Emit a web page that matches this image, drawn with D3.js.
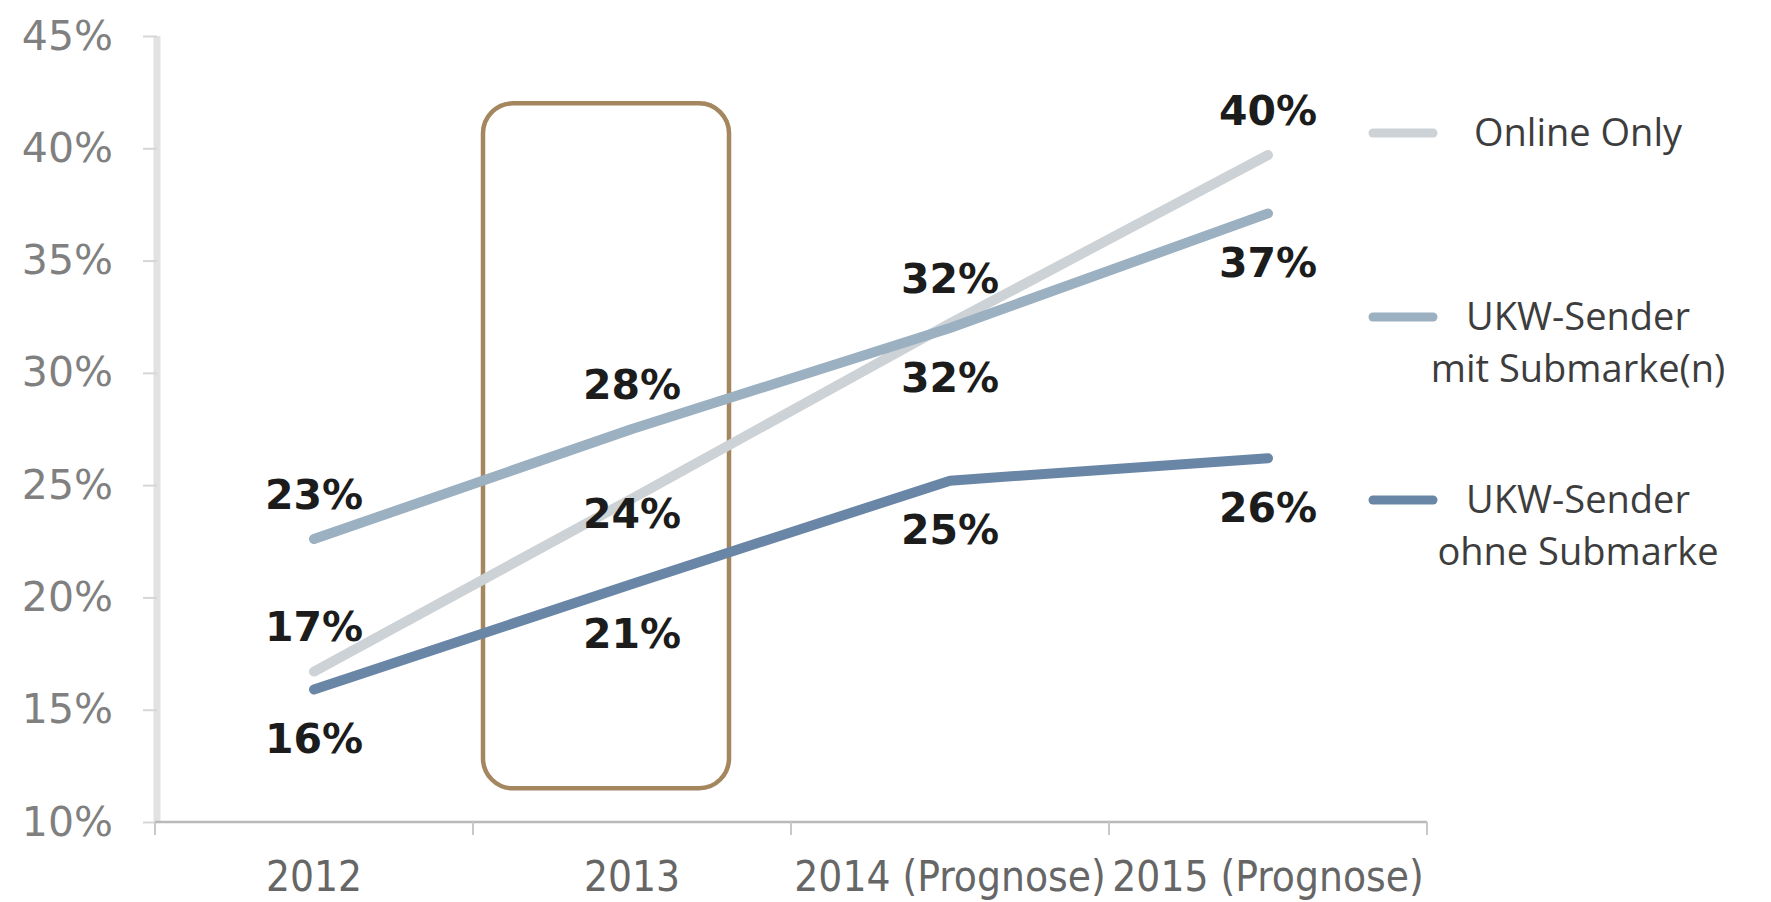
<!DOCTYPE html>
<html>
<head>
<meta charset="utf-8">
<script src="https://cdn.jsdelivr.net/npm/d3@7"></script>
<style>
  html, body { margin: 0; padding: 0; background: #ffffff; }
  svg { display: block; }
</style>
</head>
<body>
<svg id="chart" width="1771" height="902"></svg>
<script>
// ---------- data ----------
const categories = ["2012", "2013", "2014 (Prognose)", "2015 (Prognose)"];
const seriesNames = ["Online Only", "UKW-Sender mit Submarke(n)", "UKW-Sender ohne Submarke"];
const legendLines = [["Online Only"], ["UKW-Sender", "mit Submarke(n)"], ["UKW-Sender", "ohne Submarke"]];
const onlineOnly = [16.7, 24.4, 32.2, 39.7];
const ukwMit     = [22.6, 27.5, 32.0, 37.1];
const ukwOhne    = [15.9, 20.6, 25.2, 26.2];
const yTicks = [10, 15, 20, 25, 30, 35, 40, 45];
// label placement relative to the point
const onlinePlace = ["above", "center", "above", "above"];
const mitPlace    = ["above", "above", "below", "below"];
const ohnePlace   = ["below", "below", "below", "below"];
// highlighted category (annotation box)
const highlightCat = "2013";
const highlightRange = [11.5, 42];

const seriesColors = ["#cdd2d6", "#9bb0c0", "#6a86a6"];

// ---------- scales ----------
const svg = d3.select("#chart");
const x = d3.scaleBand().domain(categories).range([155, 1427]).padding(0);
const y = d3.scaleLinear().domain([10, 45]).range([822, 36]);
const cx = c => x(c) + x.bandwidth() / 2;

// ---------- y axis ----------
const yAxis = svg.append("g").attr("transform", "translate(157,0)")
  .call(d3.axisLeft(y).tickValues(yTicks).tickFormat(d => d + "%").tickSize(14).tickPadding(30));
yAxis.select(".domain").attr("stroke", "#e2e2e2").attr("stroke-width", 7)
  .attr("d", `M0,${y(45)}V${y(10)}`);
yAxis.selectAll(".tick line").attr("stroke", "#d6d6d6").attr("stroke-width", 2);
yAxis.selectAll(".tick text")
  .attr("fill", "#808080")
  .style("font-family", "'DejaVu Sans', sans-serif")
  .style("font-size", "41px");

// ---------- x axis ----------
const xAxis = svg.append("g").attr("transform", `translate(0,${y(10)})`)
  .call(d3.axisBottom(x).tickSize(0).tickPadding(0));
xAxis.select(".domain").attr("stroke", "#b9b9b9").attr("stroke-width", 2.5)
  .attr("d", `M${x.range()[0]},0H${x.range()[1]}`);
xAxis.selectAll(".tick text")
  .attr("y", 54).attr("dy", "0.35em")
  .attr("fill", "#666")
  .style("font-family", "'DejaVu Sans Condensed', 'DejaVu Sans', sans-serif")
  .style("font-stretch", "condensed")
  .style("font-size", "42px");
// category boundary ticks
const bounds = categories.map(c => x(c)).concat([x.range()[1]]);
xAxis.selectAll("line.bound").data(bounds).enter().append("line")
  .attr("class", "bound")
  .attr("x1", d => d).attr("x2", d => d)
  .attr("y1", 0).attr("y2", 13)
  .attr("stroke", "#c8c8c8").attr("stroke-width", 2);

// ---------- highlight box ----------
svg.append("rect")
  .attr("x", x(highlightCat) + 10)
  .attr("y", y(highlightRange[1]))
  .attr("width", x.bandwidth() - 72)
  .attr("height", y(highlightRange[0]) - y(highlightRange[1]))
  .attr("rx", 30).attr("ry", 30)
  .attr("fill", "none")
  .attr("stroke", "#a4865f")
  .attr("stroke-width", 4.5);

// ---------- lines ----------
const series = [
  { name: seriesNames[0], values: onlineOnly, place: onlinePlace, color: seriesColors[0] },
  { name: seriesNames[1], values: ukwMit,     place: mitPlace,    color: seriesColors[1] },
  { name: seriesNames[2], values: ukwOhne,    place: ohnePlace,   color: seriesColors[2] }
];
const line = d3.line().x((d, i) => cx(categories[i])).y(d => y(d));
svg.append("g").selectAll("path").data(series).enter().append("path")
  .attr("d", s => line(s.values))
  .attr("fill", "none")
  .attr("stroke", s => s.color)
  .attr("stroke-width", 10)
  .attr("stroke-linecap", "round")
  .attr("stroke-linejoin", "round");

// ---------- data labels ----------
const offsets = { above: -45, below: 49, center: 15 };
const labelData = [];
series.forEach(s => s.values.forEach((v, i) =>
  labelData.push({ v, cat: categories[i], place: s.place[i] })));
svg.append("g").selectAll("text").data(labelData).enter().append("text")
  .attr("x", d => cx(d.cat))
  .attr("y", d => y(d.v) + offsets[d.place])
  .attr("dy", "0.36em")
  .attr("text-anchor", "middle")
  .attr("fill", "#1c1c1c")
  .style("font-family", "'DejaVu Sans', sans-serif")
  .style("font-weight", "bold")
  .style("font-size", "41px")
  .text(d => Math.round(d.v) + "%");

// ---------- legend ----------
const legendY = [133, 317, 500];
const legendX = 1578;
const lg = svg.append("g");
legendLines.forEach((lines, i) => {
  lg.append("line")
    .attr("x1", 1373).attr("x2", 1433)
    .attr("y1", legendY[i]).attr("y2", legendY[i])
    .attr("stroke", seriesColors[i]).attr("stroke-width", 9)
    .attr("stroke-linecap", "round");
  lines.forEach((ln, j) => {
    lg.append("text")
      .attr("x", legendX).attr("y", legendY[i] + j * 52)
      .attr("dy", "0.35em")
      .attr("text-anchor", "middle")
      .attr("fill", "#3d3d3d")
      .style("font-family", "'Open Sans', sans-serif")
      .style("font-size", "38px")
      .text(ln);
  });
});
</script>
</body>
</html>
